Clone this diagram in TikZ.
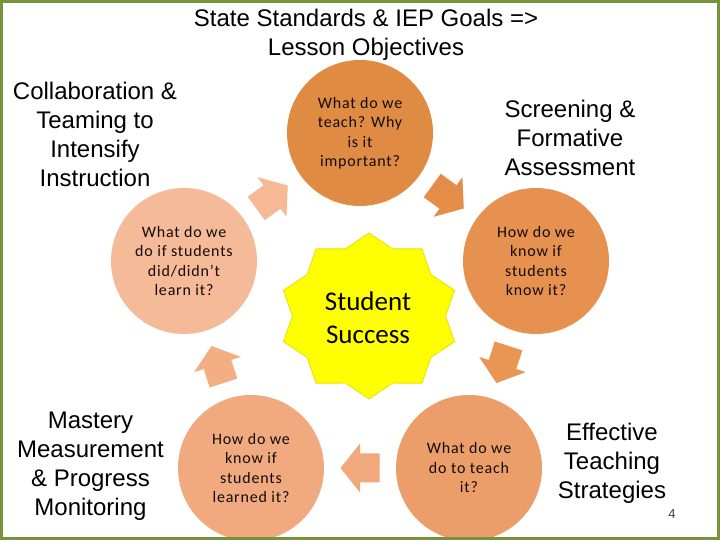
\documentclass[tikz,border=0pt]{standalone}
\usepackage{fontspec}
\setmainfont{Liberation Sans}
\newfontfamily\calfont{Carlito}
\newfontfamily\calspaced[LetterSpace=5]{Carlito}
\usetikzlibrary{calc}
\definecolor{frameolive}{RGB}{118,146,60}
\definecolor{cOne}{RGB}{224,139,68}
\definecolor{cTwo}{RGB}{230,145,80}
\definecolor{cThree}{RGB}{236,158,106}
\definecolor{cFour}{RGB}{241,170,128}
\definecolor{cFive}{RGB}{245,186,152}
\definecolor{aA}{RGB}{245,185,150}
\definecolor{aB}{RGB}{228,141,72}
\definecolor{aC}{RGB}{233,150,85}
\definecolor{aD}{RGB}{240,168,124}
\definecolor{aE}{RGB}{243,174,132}
\definecolor{bubbletext}{RGB}{20,12,8}
\definecolor{staryellow}{RGB}{255,255,0}
\definecolor{staredge}{RGB}{230,225,0}
\begin{document}
\begin{tikzpicture}[x=1pt,y=1pt,
  bubble/.style={circle, minimum size=146pt, inner sep=0pt, align=center,
    text=bubbletext, font=\calspaced\fontsize{16}{19.5}\selectfont},
  sidelabel/.style={align=center, inner sep=0pt, text=black,
    font=\fontsize{24}{29}\selectfont},
  startext/.style={align=center, inner sep=0pt, text=black,
    font=\calfont\fontsize{27}{33}\selectfont},
  pagenum/.style={inner sep=0pt, text=black!75, font=\fontsize{13}{15}\selectfont},
  border/.style={draw=frameolive, line width=3pt}
]
\useasboundingbox (0,0) rectangle (720,540);
\fill[white] (0,0) rectangle (720,540);

% circles
\node[bubble, fill=cOne] (c1) at (360,407) {What do we\\teach? Why\\is it\\important?};
\node[bubble, fill=cTwo] (c2) at (536,279) {How do we\\know if\\students\\know it?};
\node[bubble, fill=cThree] (c3) at (469,72) {What do we\\do to teach\\it?};
\node[bubble, fill=cFour] (c4) at (251,72) {How do we\\know if\\students\\learned it?};
\node[bubble, fill=cFive] (c5) at (184,279) {What do we\\do if students\\did/didn’t\\learn it?};

% arrow positions
\coordinate (mA) at ($(c5)!0.5!(c1)$);
\coordinate (mB) at ($(c1)!0.5!(c2)$);
\coordinate (mC) at ($(c2)!0.5!(c3)$);
\coordinate (mD) at ($(c3)!0.5!(c4)$);
\coordinate (mE) at ($(c4)!0.5!(c5)$);

\fill[aA, shift={(mA)}, rotate=36]   (-19.5,-14.5) -- (0,-14.5) -- (0,-24.5) -- (19.5,0) -- (0,24.5) -- (0,14.5) -- (-19.5,14.5) -- cycle;
\fill[aB, shift={(mB)}, rotate=-36]  (-19.5,-14.5) -- (0,-14.5) -- (0,-24.5) -- (19.5,0) -- (0,24.5) -- (0,14.5) -- (-19.5,14.5) -- cycle;
\fill[aC, shift={(mC)}, rotate=-108] (-19.5,-14.5) -- (0,-14.5) -- (0,-24.5) -- (19.5,0) -- (0,24.5) -- (0,14.5) -- (-19.5,14.5) -- cycle;
\fill[aD, shift={(mD)}, rotate=180]  (-19.5,-14.5) -- (0,-14.5) -- (0,-24.5) -- (19.5,0) -- (0,24.5) -- (0,14.5) -- (-19.5,14.5) -- cycle;
\fill[aE, shift={(mE)}, rotate=108]  (-19.5,-14.5) -- (0,-14.5) -- (0,-24.5) -- (19.5,0) -- (0,24.5) -- (0,14.5) -- (-19.5,14.5) -- cycle;

% star
\fill[staryellow, draw=staredge, line width=0.8pt]
  plot[samples at={0,...,19}, variable=\k]
  ({369+90*(1-0.15*mod(\k,2))*cos(90+18*\k)}, {224+83*(1-0.15*mod(\k,2))*sin(90+18*\k)}) -- cycle;
\node[startext] (st) at (368,222) {Student\\Success};

% outer labels
\node[sidelabel] (title) at (366,505.5) {State Standards \& IEP Goals =>\\Lesson Objectives};
\node[sidelabel] (collab) at (95,406) {Collaboration \&\\Teaming to\\Intensify\\Instruction};
\node[sidelabel] (screen) at (570,402) {Screening \&\\Formative\\Assessment};
\node[sidelabel] (mastery) at (90.5,73.5) {Mastery\\Measurement\\\& Progress\\Monitoring};
\node[sidelabel] (effective) at (612,77) {Effective\\Teaching\\Strategies};
\node[pagenum] (num) at (672,26) {4};

% frame
\draw[border] (1.5,1.5) rectangle (718.5,538.5);
\end{tikzpicture}
\end{document}
